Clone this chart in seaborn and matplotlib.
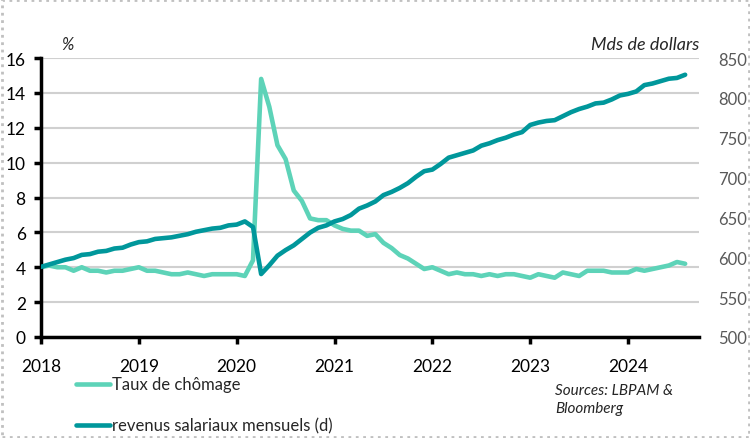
import numpy as np
import pandas as pd
import matplotlib
matplotlib.use("Agg")
import matplotlib.pyplot as plt
from matplotlib.patches import Rectangle
import seaborn as sns

# Monthly data, Jan 2018 -> Aug 2024
unemployment = [
    4.0, 4.1, 4.0, 4.0, 3.8, 4.0, 3.8, 3.8, 3.7, 3.8, 3.8, 3.9,   # 2018
    4.0, 3.8, 3.8, 3.7, 3.6, 3.6, 3.7, 3.6, 3.5, 3.6, 3.6, 3.6,   # 2019
    3.6, 3.5, 4.4, 14.8, 13.2, 11.0, 10.2, 8.4, 7.8, 6.8, 6.7, 6.7,  # 2020
    6.4, 6.2, 6.1, 6.1, 5.8, 5.9, 5.4, 5.1, 4.7, 4.5, 4.2, 3.9,   # 2021
    4.0, 3.8, 3.6, 3.7, 3.6, 3.6, 3.5, 3.6, 3.5, 3.6, 3.6, 3.5,   # 2022
    3.4, 3.6, 3.5, 3.4, 3.7, 3.6, 3.5, 3.8, 3.8, 3.8, 3.7, 3.7,   # 2023
    3.7, 3.9, 3.8, 3.9, 4.0, 4.1, 4.3, 4.2,                       # 2024
]
wages = [
    588, 591, 594, 597, 599, 603, 604, 607, 608, 611, 612, 616,   # 2018
    619, 620, 623, 624, 625, 627, 629, 632, 634, 636, 637, 640,   # 2019
    641, 645, 638, 579, 590, 602, 609, 615, 623, 631, 637, 640,   # 2020
    645, 648, 653, 661, 665, 670, 678, 682, 687, 693, 701, 708,   # 2021
    710, 717, 725, 728, 731, 734, 740, 743, 747, 750, 754, 757,   # 2022
    766, 769, 771, 772, 777, 782, 786, 789, 793, 794, 798, 803,   # 2023
    805, 808, 816, 818, 821, 824, 825, 829,                       # 2024
]
years = ["2018", "2019", "2020", "2021", "2022", "2023", "2024"]

df = pd.DataFrame({
    "month": np.arange(len(unemployment)),
    "Taux de chômage": unemployment,
    "revenus salariaux mensuels (d)": wages,
})

sns.set_style("white")
plt.rcParams["font.family"] = ["Lato", "DejaVu Sans"]

c_unemp = "#5dd3b8"
c_wage = "#00979b"

fig = plt.figure(figsize=(7.5, 4.39), dpi=100)
ax = fig.add_axes([41 / 750, 1 - 338 / 439, (699 - 41) / 750, (338 - 59) / 439])
ax2 = ax.twinx()

sns.lineplot(data=df, x="month", y="Taux de chômage", ax=ax, color=c_unemp,
             lw=3.3, label="Taux de chômage", legend=False)
sns.lineplot(data=df, x="month", y="revenus salariaux mensuels (d)", ax=ax2,
             color=c_wage, lw=3.3, label="revenus salariaux mensuels (d)", legend=False)

ax.set_xlim(0, 80.7)
ax.set_ylim(0, 16)
ax2.set_ylim(500, 850)
ax.set_yticks(range(0, 17, 2))
ax2.set_yticks(range(500, 851, 50))
ax.set_xticks(range(0, 73, 12))
ax.set_xticklabels(years)
ax.set_xlabel("")
ax.set_ylabel("")
ax2.set_ylabel("")

ax.grid(axis="y", color="#d0d0d0", lw=1.5)
ax.set_axisbelow(True)
for s in ["top", "right"]:
    ax.spines[s].set_visible(False)
for s in ax2.spines.values():
    s.set_visible(False)
ax.spines["left"].set_linewidth(2.5)
ax.spines["bottom"].set_linewidth(2.5)
ax.spines["left"].set_color("black")
ax.spines["bottom"].set_color("black")

ax.tick_params(axis="y", direction="out", length=5, width=2.5, color="black",
               labelsize=12.5, labelcolor="black", pad=6, left=True)
ax.tick_params(axis="x", direction="out", length=5, width=2.5, color="black",
               labelsize=12.5, labelcolor="black", pad=10, bottom=True)
ax2.tick_params(axis="y", length=0, labelsize=12, labelcolor="#595959", pad=14)

ax.text(0.03, 1.02, "%", transform=ax.transAxes, fontsize=12, style="italic",
        ha="left", va="bottom")
ax2.text(1.0, 1.02, "Mds de dollars", transform=ax.transAxes, fontsize=13,
         style="italic", ha="right", va="bottom")

h1, l1 = ax.get_legend_handles_labels()
h2, l2 = ax2.get_legend_handles_labels()
fig.legend(h1 + h2, l1 + l2, loc="upper left", bbox_to_anchor=(68 / 750, 1 - 369 / 439),
           frameon=False, fontsize=12, handlelength=2.0, handletextpad=0.15,
           labelspacing=1.5, borderpad=0)

fig.text(555 / 750, 1 - 400 / 439, "Sources: LBPAM &\nBloomberg", fontsize=11,
         style="italic", ha="left", va="center", linespacing=1.35)

fig.patches.append(Rectangle((0.002, 0.003), 0.996, 0.994, transform=fig.transFigure,
                             fill=False, ec="#c0c0c0", lw=2, ls=":"))

fig.savefig("out.png", dpi=100)
